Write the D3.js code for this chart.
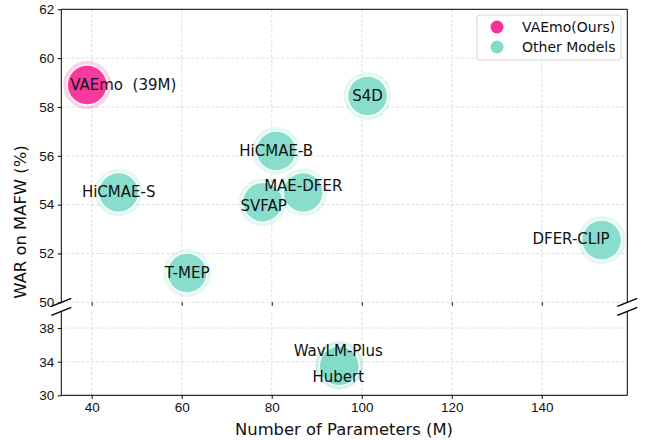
<!DOCTYPE html>
<html>
<head>
<meta charset="utf-8">
<script src="https://cdn.jsdelivr.net/npm/d3@7"></script>
<style>
  body { margin: 0; background: white; }
  svg { font-family: "DejaVu Sans", sans-serif; }
</style>
</head>
<body>
<div id="container"></div>
<script>
// data
var models = ["VAEmo", "HiCMAE-S", "HiCMAE-B", "S4D", "SVFAP", "MAE-DFER", "T-MEP", "DFER-CLIP", "WavLM-Plus", "Hubert"];
var params = [39, 46, 81, 101.3, 78, 87, 61.2, 153.3, 95, 95];
var war = [58.9, 54.5, 56.2, 58.45, 54.1, 54.5, 51.2, 52.55, 33.65, 33.5];
var isOurs = [true, false, false, false, false, false, false, false, false, false];
var xTicks = [40, 60, 80, 100, 120, 140];
var yTicksTop = [50, 52, 54, 56, 58, 60, 62];
var yTicksBot = [30, 34, 38];
var legendLabels = ["VAEmo(Ours)", "Other Models"];

// label placement (style only)
var labelStyle = {
  "VAEmo": { dx: -17, dy: 0, anchor: "start", text: "VAEmo\u00a0\u00a0(39M)" },
  "MAE-DFER": { dx: 0, dy: -6, anchor: "middle" },
  "SVFAP": { dx: 1, dy: 4, anchor: "middle" },
  "DFER-CLIP": { dx: 8, dy: -1, anchor: "end" },
  "WavLM-Plus": { dx: -1, dy: -14, anchor: "middle" },
  "Hubert": { dx: -1, dy: 11, anchor: "middle" }
};

var pink = "#f7309a", teal = "#83dbc9";
var W = 646, H = 440;
var left = 61.3, right = 627.3;

var x = d3.scaleLinear().domain([33.25, 159]).range([left, right]);
var yTop = d3.scaleLinear().domain([50, 62]).range([302.3, 9.3]);
var yBot = d3.scaleLinear().domain([30, 40]).range([395.3, 311.3]);

var svg = d3.select("#container").append("svg")
  .attr("width", W).attr("height", H);

function panel(y, ticks, showTop, showBottomLabels) {
  var g = svg.append("g");
  var y0 = y.range()[0], y1 = y.range()[1];
  // grid
  g.selectAll("line.gx").data(xTicks).enter().append("line")
    .attr("x1", d => x(d)).attr("x2", d => x(d))
    .attr("y1", y0).attr("y2", y1)
    .attr("stroke", "#d4d4d4").attr("stroke-width", 0.8).attr("stroke-dasharray", "3,2");
  g.selectAll("line.gy").data(ticks).enter().append("line")
    .attr("x1", left).attr("x2", right)
    .attr("y1", d => y(d)).attr("y2", d => y(d))
    .attr("stroke", "#d4d4d4").attr("stroke-width", 0.8).attr("stroke-dasharray", "3,2");

  var ay = g.append("g").attr("transform", "translate(" + left + ",0)")
    .call(d3.axisLeft(y).tickValues(ticks).tickSize(3.5).tickPadding(3.5).tickFormat(d3.format("d")));
  ay.select(".domain").remove();
  ay.selectAll("text").style("font-size", "13.5px").attr("fill", "#111");

  var ax = g.append("g").attr("transform", "translate(0," + y0 + ")")
    .call(d3.axisBottom(x).tickValues(xTicks).tickSize(3.5).tickPadding(3.5));
  ax.select(".domain").remove();
  if (showBottomLabels) ax.selectAll("text").style("font-size", "13.5px").attr("fill", "#111");
  else ax.selectAll("text").remove();

  // spines
  g.append("line").attr("x1", left).attr("x2", left).attr("y1", y0).attr("y2", y1).attr("stroke", "#000").attr("stroke-width", 1);
  g.append("line").attr("x1", right).attr("x2", right).attr("y1", y0).attr("y2", y1).attr("stroke", "#000").attr("stroke-width", 1);
  if (showTop) g.append("line").attr("x1", left).attr("x2", right).attr("y1", y1).attr("y2", y1).attr("stroke", "#000").attr("stroke-width", 1);
  else g.append("line").attr("x1", left).attr("x2", right).attr("y1", y0).attr("y2", y0).attr("stroke", "#000").attr("stroke-width", 1);
}

panel(yTop, yTicksTop, true, false);
panel(yBot, yTicksBot, false, true);

// break marks
[yTop.range()[0], yBot.range()[1]].forEach(function (yy) {
  [left, right].forEach(function (xx) {
    svg.append("line")
      .attr("x1", xx - 10).attr("y1", yy + 4)
      .attr("x2", xx + 10).attr("y2", yy - 4)
      .attr("stroke", "#000").attr("stroke-width", 1.3);
  });
});

// points
var pts = models.map(function (m, i) {
  return { name: m, p: params[i], w: war[i], ours: isOurs[i] };
});

function yOf(d) { return d.w >= 45 ? yTop(d.w) : yBot(d.w); }

var gp = svg.append("g");
pts.forEach(function (d) {
  var c = d.ours ? pink : teal;
  gp.append("circle").attr("cx", x(d.p)).attr("cy", yOf(d)).attr("r", 24)
    .attr("fill", c).attr("fill-opacity", 0.22);
  gp.append("circle").attr("cx", x(d.p)).attr("cy", yOf(d)).attr("r", 20)
    .attr("fill", c).attr("fill-opacity", 0.95)
    .attr("stroke", "white").attr("stroke-width", 1.5).attr("stroke-opacity", 0.9);
});

pts.forEach(function (d) {
  var s = labelStyle[d.name] || { dx: 0, dy: 0, anchor: "middle" };
  svg.append("text")
    .attr("x", x(d.p) + s.dx).attr("y", yOf(d) + s.dy)
    .attr("text-anchor", s.anchor).attr("dominant-baseline", "central")
    .style("font-size", "15px").attr("fill", "#111")
    .text(s.text || d.name);
});

// axis titles
svg.append("text").attr("x", 344).attr("y", 435)
  .attr("text-anchor", "middle").style("font-size", "16.4px").attr("fill", "#111")
  .text("Number of Parameters (M)");
svg.append("text")
  .attr("transform", "translate(20,222) rotate(-90)")
  .attr("text-anchor", "middle").attr("dominant-baseline", "central")
  .style("font-size", "16.4px").attr("fill", "#111")
  .text("WAR on MAFW (%)");

// legend
var lg = svg.append("g");
lg.append("rect").attr("x", 477).attr("y", 15).attr("width", 144).attr("height", 45)
  .attr("rx", 3).attr("fill", "white").attr("fill-opacity", 0.8)
  .attr("stroke", "#d5d5d5").attr("stroke-width", 1);
legendLabels.forEach(function (t, i) {
  lg.append("circle").attr("cx", 497).attr("cy", 27 + i * 20).attr("r", 6.5)
    .attr("fill", i === 0 ? pink : teal);
  lg.append("text").attr("x", 522).attr("y", 27 + i * 20)
    .attr("dominant-baseline", "central").style("font-size", "14px").attr("fill", "#111")
    .text(t);
});
</script>
</body>
</html>
